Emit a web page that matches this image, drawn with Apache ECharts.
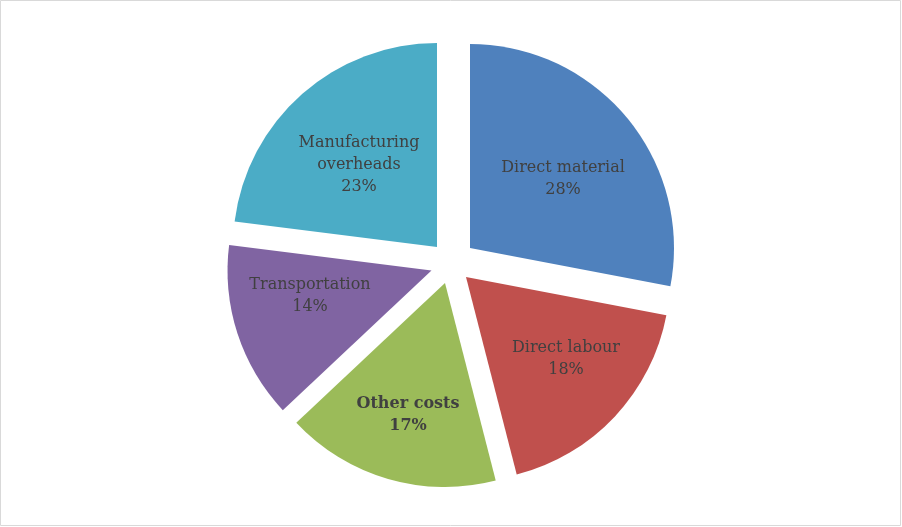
<!DOCTYPE html>
<html>
<head>
<meta charset="utf-8">
<script src="https://cdn.jsdelivr.net/npm/echarts@6/dist/echarts.min.js"></script>
<style>
html,body{margin:0;padding:0;background:#fff;}
#chart{width:902px;height:527px;}
</style>
</head>
<body>
<div id="chart"></div>
<script>
// Data
var categories = ['Direct material', 'Direct labour', 'Other costs', 'Transportation', 'Manufacturing overheads'];
var values = [28, 18, 17, 14, 23];

// Styles / layout (not data)
var colors = ['#4F81BD', '#C0504D', '#9BBB59', '#8064A2', '#4BACC6'];
var sliceCenters = [[470, 248], [466, 277], [445, 283], [431.5, 270.5], [437, 247]];
var labelPos = [[563, 179], [566, 359], [408, 415], [310, 296], [359, 165]];
var boldLabel = [false, false, true, false, false];
var R = 204;

var chart = echarts.init(document.getElementById('chart'), null, {renderer: 'canvas'});

var series = categories.map(function (cat, i) {
  return {
    type: 'pie',
    silent: true,
    center: sliceCenters[i],
    radius: [0, R],
    startAngle: 90,
    clockwise: true,
    avoidLabelOverlap: false,
    animation: false,
    labelLine: {show: false},
    emphasis: {disabled: true},
    labelLayout: {x: labelPos[i][0], y: labelPos[i][1]},
    data: values.map(function (v, j) {
      return {
        value: v,
        name: categories[j],
        itemStyle: {color: j === i ? colors[j] : 'transparent', borderWidth: 0},
        label: {
          show: j === i,
          position: 'inside',
          fontWeight: boldLabel[j] ? 'bold' : 'normal'
        }
      };
    }),
    label: {
      fontFamily: '"DejaVu Serif", serif',
      fontSize: 16,
      lineHeight: 22,
      color: '#404040',
      align: 'center',
      verticalAlign: 'middle',
      formatter: function (p) {
        var n = p.name === 'Manufacturing overheads' ? 'Manufacturing\noverheads' : p.name;
        return n + '\n' + Math.round(p.percent) + '%';
      }
    }
  };
});

chart.setOption({
  backgroundColor: '#ffffff',
  animation: false,
  graphic: [{
    type: 'rect',
    shape: {x: 0.5, y: 0.5, width: 900, height: 525},
    style: {fill: 'none', stroke: '#d9d9d9', lineWidth: 1},
    silent: true,
    z: 100
  }],
  series: series
});
</script>
</body>
</html>
